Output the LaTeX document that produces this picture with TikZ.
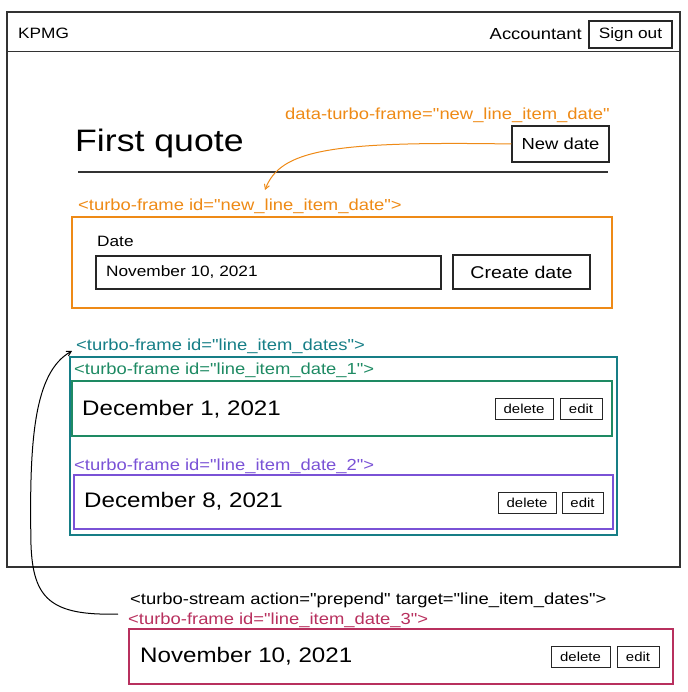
\documentclass[tikz,border=0pt]{standalone}
\usepackage{fontspec}
\setmainfont{Liberation Sans}[Ligatures=TeXOff, FakeStretch=1.15]
\usetikzlibrary{arrows}
\definecolor{frameorange}{HTML}{EE8A16}
\definecolor{frameteal}{HTML}{167E86}
\definecolor{framegreen}{HTML}{1E8A63}
\definecolor{framepurple}{HTML}{7A52D6}
\definecolor{framecrimson}{HTML}{B8305E}
\tikzstyle{btn} = [rectangle, draw=black!85, line width=1.1pt, text centered, inner sep=0pt, font=\fontsize{15}{15}\selectfont]
\tikzstyle{smallbtn} = [rectangle, draw=black!85, line width=1pt, inner sep=0pt, font=\fontsize{13}{13}\selectfont]
\tikzstyle{frame} = [rectangle, line width=1.1pt, inner sep=0pt]
\tikzstyle{tag} = [anchor=west, inner sep=0pt, font=\fontsize{16}{16}\selectfont]
\tikzstyle{bigdate} = [anchor=west, inner sep=0pt, font=\fontsize{21}{21}\selectfont]
\tikzstyle{arrow} = [line width=1pt,->,>=angle 60]

\begin{document}
\begin{tikzpicture}[x=1pt, y=-1pt]
\useasboundingbox (0,0) rectangle (687,692);

% browser window
\node (browser) [frame, draw=black!80, minimum width=673, minimum height=555] at (343.5,289.5) {};
\draw [line width=1.1pt, black!80] ([yshift=-40]browser.north west) -- ([yshift=-40]browser.north east);
\node (brand) [tag, font=\fontsize{15}{15}\selectfont] at (18,33) {KPMG};
\node (user) [tag, anchor=east] at (582,34) {Accountant};
\node (signout) [btn, minimum width=83, minimum height=27] at (630.5,34.5) {Sign out};

% quote header
\node (datalink) [tag, text=frameorange] at (285,115) {data-turbo-frame="new\_line\_item\_date"};
\node (title) [anchor=west, inner sep=0pt, font=\fontsize{31}{31}\selectfont] at (75,143) {First quote};
\node (newdate) [btn, font=\fontsize{16}{16}\selectfont, minimum width=97, minimum height=36] at (560.5,144) {New date};
\draw [line width=1.1pt, black!80] (78,172) -- (608,172);

% new date frame
\node (newlabel) [tag, text=frameorange] at (78,206) {<turbo-frame id="new\_line\_item\_date">};
\node (newframe) [frame, draw=frameorange, minimum width=540, minimum height=91] at (342,262.5) {};
\node (datelabel) [tag, font=\fontsize{15}{15}\selectfont] at (97,241) {Date};
\node (dateinput) [btn, minimum width=345, minimum height=33] at (268.5,272.5) {};
\node (datevalue) [tag, font=\fontsize{15}{15}\selectfont] at (106,272) {November 10, 2021};
\node (create) [btn, font=\fontsize{17}{17}\selectfont, minimum width=137, minimum height=34] at (521.5,272) {Create date};
\coordinate (newtip) at (265,190);
\draw [arrow, frameorange] (newdate.west) .. controls (330,141) and (280,150) .. (newtip);

% line item dates
\node (listlabel) [tag, text=frameteal] at (76,346) {<turbo-frame id="line\_item\_dates">};
\node (listframe) [frame, draw=frameteal, minimum width=547, minimum height=178] at (343.5,446) {};

\node (onelabel) [tag, text=framegreen] at (74,370) {<turbo-frame id="line\_item\_date\_1">};
\node (oneframe) [frame, draw=framegreen, minimum width=540, minimum height=55] at (342,408.5) {};
\node (onedate) [bigdate] at (82,409) {December 1, 2021};
\node (onedelete) [smallbtn, minimum width=58, minimum height=21] at (524,408.5) {delete};
\node (oneedit) [smallbtn, minimum width=42, minimum height=21] at (581,408.5) {edit};

\node (twolabel) [tag, text=framepurple] at (74,466) {<turbo-frame id="line\_item\_date\_2">};
\node (twoframe) [frame, draw=framepurple, minimum width=539, minimum height=54] at (343.5,502) {};
\node (twodate) [bigdate] at (84,501) {December 8, 2021};
\node (twodelete) [smallbtn, minimum width=58, minimum height=21] at (527,502.5) {delete};
\node (twoedit) [smallbtn, minimum width=41, minimum height=21] at (582.5,502.5) {edit};

% turbo stream
\node (streamlabel) [tag] at (130,600) {<turbo-stream action="prepend" target="line\_item\_dates">};
\node (threelabel) [tag, text=framecrimson] at (128,620) {<turbo-frame id="line\_item\_date\_3">};
\node (threeframe) [frame, draw=framecrimson, minimum width=544, minimum height=55] at (401,656.5) {};
\node (threedate) [bigdate] at (140,656) {November 10, 2021};
\node (threedelete) [smallbtn, minimum width=59, minimum height=21] at (580.5,656.5) {delete};
\node (threeedit) [smallbtn, minimum width=42, minimum height=21] at (638,656.5) {edit};

\coordinate (streamstart) at (118,614);
\coordinate (streamtip) at (72,351);
\draw [arrow] (streamstart) .. controls (50,616) and (33,598) .. (31,545) .. controls (29,440) and (34,372) .. (streamtip);

\end{tikzpicture}
\end{document}
